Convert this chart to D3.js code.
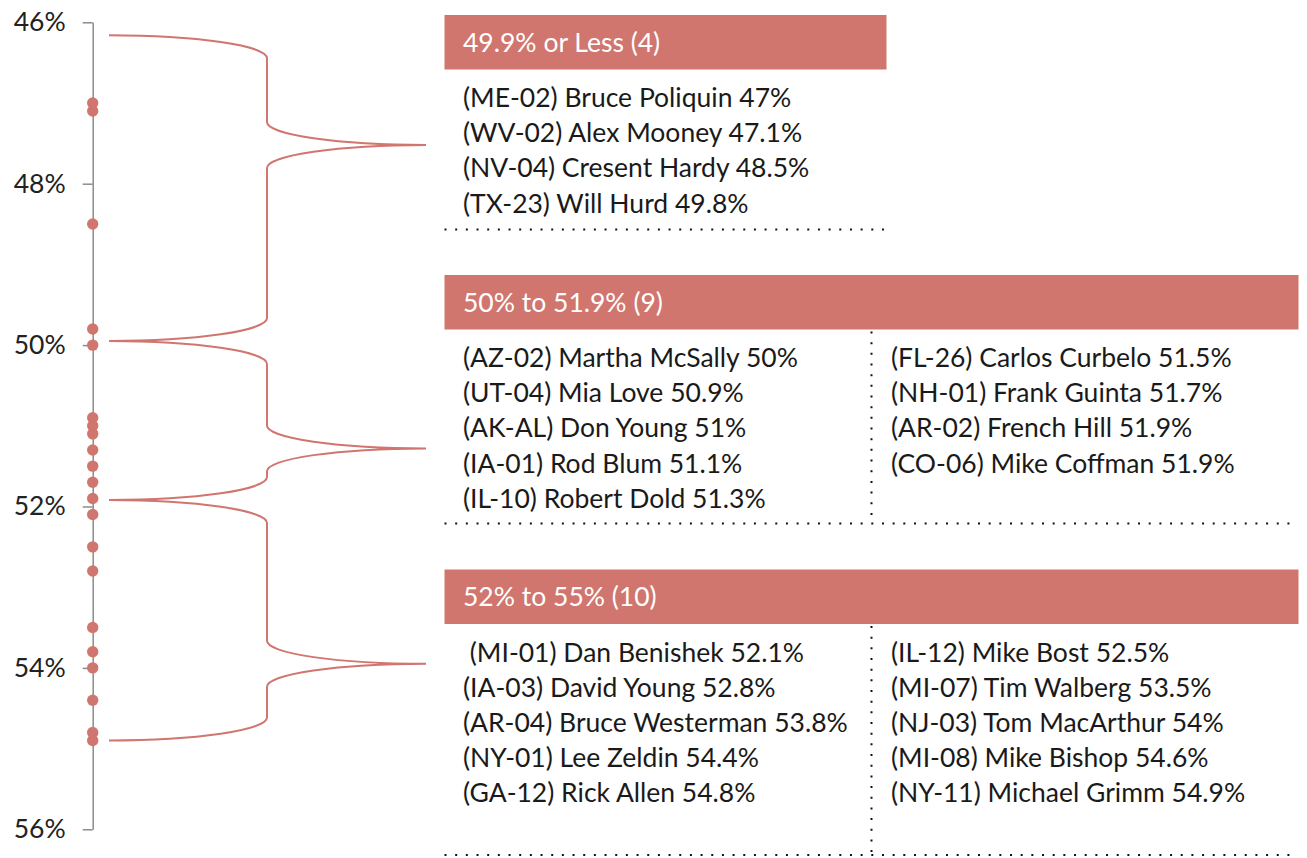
<!DOCTYPE html>
<html>
<head>
<meta charset="utf-8">
<script src="https://cdn.jsdelivr.net/npm/d3@7"></script>
<style>
  body { margin: 0; background: #fff; }
  svg text { font-family: Lato, "Open Sans", sans-serif; }
</style>
</head>
<body>
<div id="chart"></div>
<script>
// axis ticks (vote share, %)
var axisTicks = [46, 48, 50, 52, 54, 56];

// dots on the axis
var dotValues = [47, 47.1, 48.5, 49.8, 50, 50.9, 51, 51.1, 51.3, 51.5, 51.7, 51.9,
                 52.1, 52.5, 52.8, 53.5, 53.8, 54, 54.4, 54.8, 54.9];

// group headers
var groupTitles = ['49.9% or Less (4)', '50% to 51.9% (9)', '52% to 55% (10)'];

// brace extents for each group (in % units)
var braceTop = [46.16, 49.95, 51.92];
var braceTip = [47.52, 51.28, 53.95];
var braceBottom = [49.95, 51.92, 54.9];

// candidate lists per group, left and right column
var leftColumn = [
    ['(ME-02) Bruce Poliquin 47%', '(WV-02) Alex Mooney 47.1%', '(NV-04) Cresent Hardy 48.5%', '(TX-23) Will Hurd 49.8%'],
    ['(AZ-02) Martha McSally 50%', '(UT-04) Mia Love 50.9%', '(AK-AL) Don Young 51%', '(IA-01) Rod Blum 51.1%', '(IL-10) Robert Dold 51.3%'],
    [' (MI-01) Dan Benishek 52.1%', '(IA-03) David Young 52.8%', '(AR-04) Bruce Westerman 53.8%', '(NY-01) Lee Zeldin 54.4%', '(GA-12) Rick Allen 54.8%']
];
var rightColumn = [
    [],
    ['(FL-26) Carlos Curbelo 51.5%', '(NH-01) Frank Guinta 51.7%', '(AR-02) French Hill 51.9%', '(CO-06) Mike Coffman 51.9%'],
    ['(IL-12) Mike Bost 52.5%', '(MI-07) Tim Walberg 53.5%', '(NJ-03) Tom MacArthur 54%', '(MI-08) Mike Bishop 54.6%', '(NY-11) Michael Grimm 54.9%']
];

var RED = '#d0766f';
var FONT_SIZE = '26.5px';
var width = 1307, height = 858;

var svg = d3.select('#chart').append('svg')
    .attr('width', width)
    .attr('height', height);

var y = d3.scaleLinear().domain([46, 56]).range([22.3, 829.3]);
var axisX = 92.7;

// Axis
var axis = d3.axisLeft(y)
    .tickValues(axisTicks)
    .tickSize(10)
    .tickSizeOuter(0)
    .tickPadding(17)
    .tickFormat(function(d) { return d + '%'; });

var gAxis = svg.append('g')
    .attr('transform', 'translate(' + axisX + ',0)')
    .call(axis);
gAxis.select('.domain').attr('stroke', '#8c8c8c').attr('stroke-width', 1.5);
gAxis.selectAll('.tick line').attr('stroke', '#8c8c8c').attr('stroke-width', 1.5);
gAxis.selectAll('.tick text')
    .attr('fill', '#222')
    .style('font-size', FONT_SIZE)
    .style('font-family', 'Lato, sans-serif');

// Dots
svg.append('g')
    .selectAll('circle')
    .data(dotValues)
    .enter()
    .append('circle')
    .attr('cx', axisX)
    .attr('cy', function(d) { return y(d); })
    .attr('r', 5.7)
    .attr('fill', RED);

// Braces
var bx0 = 109, bxm = 267, bxt = 426, br = 23;
function bracePath(i) {
    var t = y(braceTop[i]), m = y(braceTip[i]), b = y(braceBottom[i]);
    var r1 = bxm - bx0, r2 = bxt - bxm;
    return 'M' + bx0 + ',' + t +
        ' A' + r1 + ',' + br + ' 0 0 1 ' + bxm + ',' + (t + br) +
        ' L' + bxm + ',' + (m - br) +
        ' A' + r2 + ',' + br + ' 0 0 0 ' + bxt + ',' + m +
        ' A' + r2 + ',' + br + ' 0 0 0 ' + bxm + ',' + (m + br) +
        ' L' + bxm + ',' + (b - br) +
        ' A' + r1 + ',' + br + ' 0 0 1 ' + bx0 + ',' + b;
}
svg.append('g')
    .selectAll('path')
    .data(groupTitles)
    .enter()
    .append('path')
    .attr('d', function(d, i) { return bracePath(i); })
    .attr('fill', 'none')
    .attr('stroke', RED)
    .attr('stroke-width', 2);

// Boxes
var boxX = 444.5;
var boxTop = [15, 275, 569.5];
var boxW = [442, 854, 854];
var boxBottom = [229.5, 523.5, 855];
var headerH = 54.5;
var lineH = 35.2;
var colX = [463, 891];
var dividerX = 871.5;

groupTitles.forEach(function(title, i) {
    var g = svg.append('g');
    g.append('rect')
        .attr('x', boxX)
        .attr('y', boxTop[i])
        .attr('width', boxW[i])
        .attr('height', headerH)
        .attr('fill', RED);
    g.append('text')
        .attr('x', colX[0])
        .attr('y', boxTop[i] + 36.7)
        .attr('fill', '#fff')
        .style('font-size', FONT_SIZE)
        .text(title);

    [leftColumn[i], rightColumn[i]].forEach(function(lines, c) {
        g.selectAll('text.c' + c)
            .data(lines)
            .enter()
            .append('text')
            .attr('class', 'c' + c)
            .attr('x', colX[c])
            .attr('y', function(d, k) { return boxTop[i] + headerH + 37.5 + k * lineH; })
            .attr('fill', '#1a1a1a')
            .style('font-size', FONT_SIZE)
            .style('white-space', 'pre')
            .text(function(d) { return d; });
    });

    // dotted bottom rule
    g.append('line')
        .attr('x1', boxX).attr('x2', boxX + boxW[i] - 2)
        .attr('y1', boxBottom[i]).attr('y2', boxBottom[i])
        .attr('stroke', '#111')
        .attr('stroke-width', 2)
        .attr('stroke-dasharray', '2,8.67');
    if (rightColumn[i].length) {
        g.append('line')
            .attr('x1', dividerX).attr('x2', dividerX)
            .attr('y1', boxTop[i] + headerH + 2).attr('y2', boxBottom[i])
            .attr('stroke', '#111')
            .attr('stroke-width', 2)
            .attr('stroke-dasharray', '2,8.67');
    }
});
</script>
</body>
</html>
